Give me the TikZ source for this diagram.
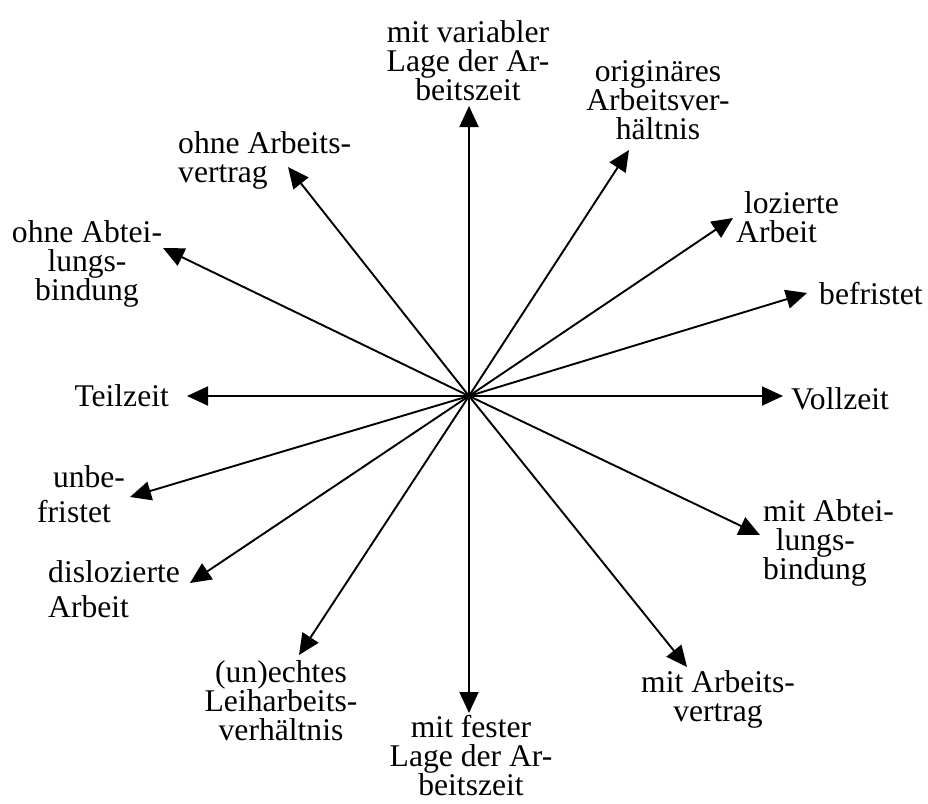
\documentclass[tikz,border=0pt]{standalone}
\usepackage{fontspec}
\setmainfont{Liberation Serif}
\usetikzlibrary{arrows.meta}
\begin{document}
\begin{tikzpicture}[x=1pt,y=-1pt,
  arr/.style={line width=1.9pt, -{Triangle[length=21pt,width=19pt]}},
  lbl/.style={inner sep=0pt, font=\fontsize{31.6}{29}\selectfont},
  wide/.style={font=\fontsize{31.6}{35}\selectfont}]
\useasboundingbox (0,0) rectangle (928,803);
\coordinate (c) at (469,396);
% arrow tips
\coordinate (tUp) at (469,106);
\coordinate (tOrig) at (629,150);
\coordinate (tLoz) at (733,218);
\coordinate (tBef) at (807,293);
\coordinate (tVoll) at (783,396);
\coordinate (tMAbt) at (760,535);
\coordinate (tMArb) at (687,667);
\coordinate (tDown) at (469,713);
\coordinate (tUnecht) at (299,655);
\coordinate (tDisl) at (190,583);
\coordinate (tUnbef) at (130,497);
\coordinate (tTeil) at (187,396);
\coordinate (tOAbt) at (163,248);
\coordinate (tOArb) at (288,167);
% labels
\node[lbl, align=center] (lUp) at (468,61) {mit variabler\\Lage der Ar-\\beitszeit};
\node[lbl, align=center] (lOrig) at (658,100) {originäres\\Arbeitsver-\\hältnis};
\node[lbl, align=left, anchor=west] (lLoz) at (736,217) {\hspace*{0.25em}lozierte\\Arbeit};
\node[lbl, anchor=west] (lBef) at (819,294) {befristet};
\node[lbl, anchor=west] (lVoll) at (791,399) {Vollzeit};
\node[lbl, align=left, anchor=west] (lMAbt) at (763,543) {mit Abtei-\\\hspace*{0.4em}lungs-\\bindung};
\node[lbl, align=center] (lMArb) at (718,699) {mit Arbeits-\\vertrag};
\node[lbl, align=center] (lDown) at (471,756) {mit fester\\Lage der Ar-\\beitszeit};
\node[lbl, align=center] (lUnecht) at (281,701) {(un)echtes\\Leiharbeits-\\verhältnis};
\node[lbl, wide, align=left, anchor=west] (lDisl) at (48,589) {dislozierte\\Arbeit};
\node[lbl, wide, align=left, anchor=west] (lUnbef) at (37,494) {\hspace*{0.5em}unbe-\\fristet};
\node[lbl, anchor=east] (lTeil) at (169,396) {Teilzeit};
\node[lbl, align=center] (lOAbt) at (87,264) {ohne Abtei-\\lungs-\\bindung};
\node[lbl, align=left, anchor=west] (lOArb) at (178,160) {ohne Arbeits-\\vertrag};
% arrows
\foreach \t in {tUp,tOrig,tLoz,tBef,tVoll,tMAbt,tMArb,tDown,tUnecht,tDisl,tUnbef,tTeil,tOAbt,tOArb}
  \draw[arr] (c) -- (\t);
\end{tikzpicture}
\end{document}
